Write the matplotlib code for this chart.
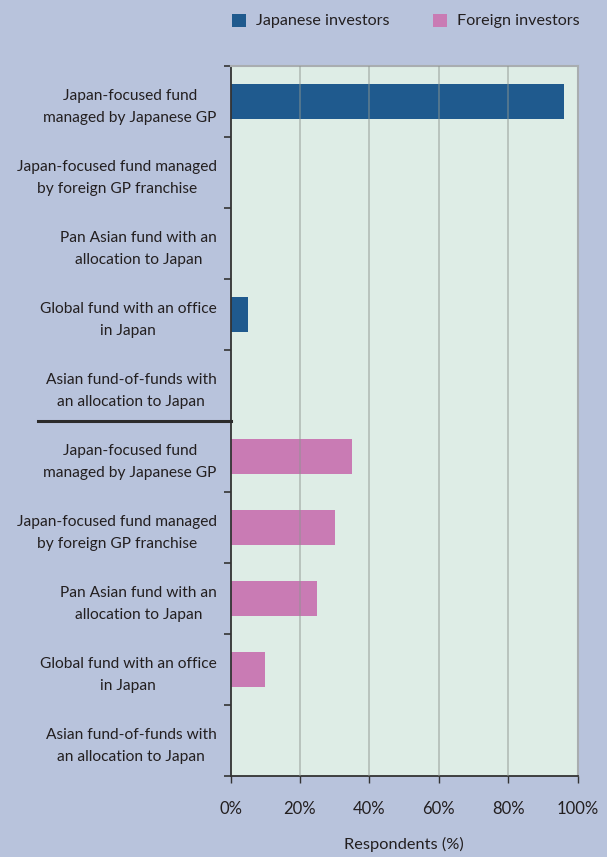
import matplotlib
matplotlib.use("Agg")
import matplotlib.pyplot as plt
import matplotlib.transforms as mtransforms
from matplotlib.patches import Rectangle

categories = [
    "Japan-focused fund\nmanaged by Japanese GP",
    "Japan-focused fund managed\nby foreign GP franchise",
    "Pan Asian fund with an\nallocation to Japan",
    "Global fund with an office\nin Japan",
    "Asian fund-of-funds with\nan allocation to Japan",
]
japanese = [96, 0, 0, 5, 0]
foreign = [35, 30, 25, 10, 0]
series_names = ["Japanese investors", "Foreign investors"]
xticks = [0, 20, 40, 60, 80, 100]
xtick_labels = ["0%", "20%", "40%", "60%", "80%", "100%"]

BG = "#B8C3DC"
PLOT_BG = "#DEEDE6"
BLUE = "#1F5A8E"
PINK = "#C97BB4"
TXT = "#231F20"

plt.rcParams['font.family'] = ['Lato', 'DejaVu Sans']

fig = plt.figure(figsize=(6.07, 8.57), dpi=100, facecolor=BG)
ax = fig.add_axes([230.5/607, 1-776/857, 347/607, 710/857])
ax.set_facecolor(PLOT_BG)

n = len(categories)
ypos_j = list(range(n))
ypos_f = list(range(n, 2*n))
ax.barh(ypos_j, japanese, height=0.5, color=BLUE, zorder=2)
ax.barh(ypos_f, foreign, height=0.5, color=PINK, zorder=2)

ax.set_xlim(0, 100)
ax.set_ylim(2*n - 0.5, -0.5)

ax.set_xticks(xticks)
ax.set_xticklabels(xtick_labels, fontsize=12, color=TXT)
ax.tick_params(axis='x', direction='out', length=5, width=1, color="#333333", pad=13)

ax.set_yticks([i - 0.5 for i in range(2*n + 1)])
ax.set_yticklabels([])
ax.set_yticks(list(range(2*n)), minor=True)
ax.set_yticklabels(categories + categories, minor=True, fontsize=11.2, color=TXT,
                   multialignment='center', linespacing=1.75)
ax.tick_params(axis='y', which='major', direction='out', length=5, width=1.2, color="#333333")
ax.tick_params(axis='y', which='minor', length=0, pad=10)

for x in xticks[1:-1]:
    ax.axvline(x, color="#8E9590", lw=1.2, alpha=0.55, zorder=3)

for s in ['top', 'right']:
    ax.spines[s].set_color("#A9ADB0")
    ax.spines[s].set_linewidth(1.5)
for s in ['left', 'bottom']:
    ax.spines[s].set_color("#333333")
    ax.spines[s].set_linewidth(1.3)

ax.set_xlabel("Respondents (%)", fontsize=11.8, color=TXT, labelpad=14)

# separator line between groups
trans = mtransforms.blended_transform_factory(ax.transAxes, ax.transData)
ax.plot([(38-230.5)/347, 0], [n - 0.5, n - 0.5], transform=trans, color="#2B2B2B",
        lw=2.2, clip_on=False, zorder=5)

# legend
for (x0, col, name) in [(232, BLUE, series_names[0]), (433, PINK, series_names[1])]:
    fig.patches.append(Rectangle((x0/607, 1-27/857), 14/607, 13/857, transform=fig.transFigure,
                                 facecolor=col, edgecolor='none'))
    fig.text((x0+24)/607, 1-20.5/857, name, fontsize=11.6, color=TXT, va='center', ha='left')

fig.savefig("out.png", dpi=100, facecolor=BG)
